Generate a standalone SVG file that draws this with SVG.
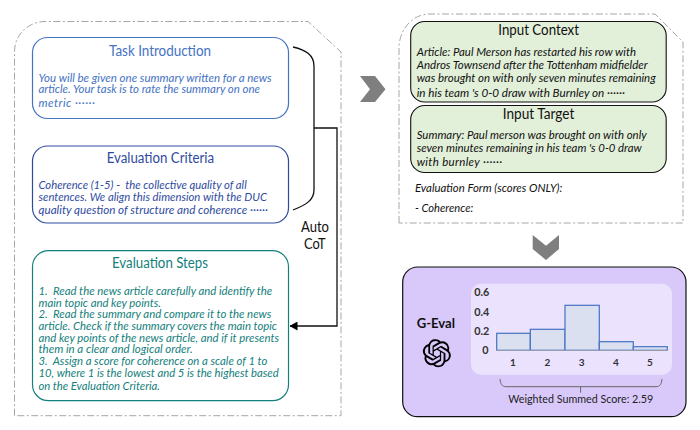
<svg xmlns="http://www.w3.org/2000/svg" width="700" height="430" viewBox="0 0 700 430">
<style>
text{font-family:Lato,"Open Sans","Liberation Sans",sans-serif}
.panel{fill:#fff;stroke:#a6a6a6;stroke-width:1;stroke-dasharray:7 2.5 2 2.5}
.box{fill:#fff;stroke-width:1.2}
.green{fill:#e2efd9;stroke:#111;stroke-width:1.1}
.title{font-size:14.6px;text-anchor:start}
.body{font-size:11.5px;font-style:italic}
.blue{fill:#4472c4;stroke:#4472c4}
.navy{fill:#2f4b9f;stroke:#2f4b9f}
.teal{fill:#13807c;stroke:#13807c}
text.blue,text.navy,text.teal{stroke:none}
.box.blue,.box.navy,.box.teal{fill:#fff}
.dark{fill:#111}
.chev{fill:#7f7f7f}
.conn{fill:none;stroke:#111;stroke-width:1.3}
.bar{fill:#dae0f0;stroke:#4472c4;stroke-width:1.2}
.tick{font-size:10px;font-weight:700;fill:#333}
.ax{font-size:10.8px;font-weight:700;fill:#333}
</style>
<defs>
<marker id="ah" markerWidth="8" markerHeight="9" refX="7.5" refY="4.5" orient="auto" markerUnits="userSpaceOnUse"><path d="M0 0L8 4.5L0 9Z" fill="#000"/></marker>
</defs>

<g id="left-panel"><path class="panel" d="M14.5 415.7V52C14.5 33 30 21.5 45 21.5H308L341 52V415.7Z"/></g>

<g id="task-introduction">
<rect class="box blue" x="32.5" y="37.5" width="256" height="81" rx="15"/>
<text class="title blue" x="109" y="55.7" textLength="102" lengthAdjust="spacingAndGlyphs">Task Introduction</text>
<text class="body blue" x="38.5" y="81.7" textLength="233.2" lengthAdjust="spacingAndGlyphs">You will be given one summary written for a news</text>
<text class="body blue" x="38.5" y="93.3" textLength="221.5" lengthAdjust="spacingAndGlyphs">article. Your task is to rate the summary on one</text>
<text class="body blue" x="38.5" y="107.3" textLength="56.5" lengthAdjust="spacing">metric  ······</text>
</g>

<g id="evaluation-criteria">
<rect class="box navy" x="32.5" y="146" width="256" height="77" rx="15"/>
<text class="title navy" x="106.7" y="162.7" textLength="107.3" lengthAdjust="spacingAndGlyphs">Evaluation Criteria</text>
<text class="body navy" x="38.5" y="189.3" textLength="208.2" lengthAdjust="spacingAndGlyphs" xml:space="preserve">Coherence (1-5) -  the collective quality of all</text>
<text class="body navy" x="38.5" y="201" textLength="228.5" lengthAdjust="spacingAndGlyphs">sentences. We align this dimension with the DUC</text>
<text class="body navy" x="38.5" y="214" textLength="229.5" lengthAdjust="spacingAndGlyphs">quality question of structure and coherence  ······</text>
</g>

<g id="evaluation-steps">
<rect class="box teal" x="32.5" y="250.7" width="256" height="150" rx="16"/>
<text class="title teal" x="112" y="268.3" textLength="96" lengthAdjust="spacingAndGlyphs">Evaluation Steps</text>
<text class="body teal" x="38.5" y="295" textLength="233.8" lengthAdjust="spacingAndGlyphs" xml:space="preserve">1.  Read the news article carefully and identify the</text>
<text class="body teal" x="38.5" y="306.7" textLength="122.5" lengthAdjust="spacingAndGlyphs">main topic and key points.</text>
<text class="body teal" x="38.5" y="318.3" textLength="232.8" lengthAdjust="spacingAndGlyphs" xml:space="preserve">2.  Read the summary and compare it to the news</text>
<text class="body teal" x="38.5" y="330" textLength="238.5" lengthAdjust="spacingAndGlyphs">article. Check if the summary covers the main topic</text>
<text class="body teal" x="38.5" y="341.7" textLength="240.5" lengthAdjust="spacingAndGlyphs">and key points of the news article, and if it presents</text>
<text class="body teal" x="38.5" y="353.3" textLength="154.2" lengthAdjust="spacingAndGlyphs">them in a clear and logical order.</text>
<text class="body teal" x="38.5" y="365" textLength="228.8" lengthAdjust="spacingAndGlyphs" xml:space="preserve">3.  Assign a score for coherence on a scale of 1 to</text>
<text class="body teal" x="38.5" y="376.7" textLength="240.2" lengthAdjust="spacingAndGlyphs">10, where 1 is the lowest and 5 is the highest based</text>
<text class="body teal" x="38.5" y="390" textLength="121.5" lengthAdjust="spacingAndGlyphs">on the Evaluation Criteria.</text>
</g>

<g id="connectors">
<path class="conn" d="M293 47C306 50 314 55 314 66V190C314 200 306 205 293 210"/>
<path class="conn" d="M314 128H337V326H290" marker-end="url(#ah)"/>
<polygon class="chev" points="360,76 375,76 385.5,89.3 375,102 360,102 370,89.3"/>
<polygon class="chev" points="532.7,235 546,245.7 559,235 559,249 546,260 532.7,249"/>
</g>
<g id="auto-cot">
<text x="301" y="232.3" font-size="14.6" class="dark" textLength="28" lengthAdjust="spacingAndGlyphs">Auto</text>
<text x="304" y="249.3" font-size="14.6" class="dark" textLength="21.7" lengthAdjust="spacingAndGlyphs">CoT</text>
</g>

<g id="right-panel"><path class="panel" d="M399 223V48C399 30 412 14 430 14H655L683 42V223Z"/></g>

<g id="input-context">
<rect class="green" x="410.7" y="21.5" width="255.5" height="80.5" rx="14"/>
<text class="title dark" x="498.3" y="35" textLength="80.7" lengthAdjust="spacingAndGlyphs">Input Context</text>
<text class="body dark" x="416.7" y="56" textLength="219.3" lengthAdjust="spacingAndGlyphs">Article: Paul Merson has restarted his row with</text>
<text class="body dark" x="416.7" y="69" textLength="231" lengthAdjust="spacingAndGlyphs">Andros Townsend after the Tottenham midfielder</text>
<text class="body dark" x="416.7" y="81.7" textLength="239" lengthAdjust="spacingAndGlyphs">was brought on with only seven minutes remaining</text>
<text class="body dark" x="416.7" y="96.7" textLength="208.3" lengthAdjust="spacingAndGlyphs">in his team 's 0-0 draw with Burnley on  ······</text>
</g>

<g id="input-target">
<rect class="green" x="410.7" y="105.5" width="255.5" height="67" rx="14"/>
<text class="title dark" x="502.7" y="119.3" textLength="71.6" lengthAdjust="spacingAndGlyphs">Input Target</text>
<text class="body dark" x="416.7" y="139.3" textLength="230" lengthAdjust="spacingAndGlyphs">Summary: Paul merson was brought on with only</text>
<text class="body dark" x="416.7" y="151.7" textLength="225" lengthAdjust="spacingAndGlyphs">seven minutes remaining in his team 's 0-0 draw</text>
<text class="body dark" x="416.7" y="165.7" textLength="85.6" lengthAdjust="spacing">with burnley  ······</text>
</g>

<g id="evaluation-form">
<text class="body dark" x="415" y="191.7" textLength="147.3" lengthAdjust="spacingAndGlyphs">Evaluation Form (scores ONLY):</text>
<text class="body dark" x="415" y="212.3" textLength="58.3" lengthAdjust="spacingAndGlyphs">- Coherence:</text>
</g>

<g id="g-eval">
<rect x="402.7" y="267" width="283.3" height="149.7" rx="15" fill="#d9c9fb" stroke="#111" stroke-width="1.2"/>
<rect x="471" y="283.7" width="201" height="91" rx="10" fill="#ebe2fd"/>
<text x="416.7" y="328.3" font-size="12.6" font-weight="700" class="dark" textLength="38.3" lengthAdjust="spacingAndGlyphs">G-Eval</text>
<path id="logo" transform="translate(422.8 339.2) scale(1.17)" fill="#000" d="M22.2819 9.8211a5.9847 5.9847 0 0 0-.5157-4.9108 6.0462 6.0462 0 0 0-6.5098-2.9A6.0651 6.0651 0 0 0 4.9807 4.1818a5.9847 5.9847 0 0 0-3.9977 2.9 6.0462 6.0462 0 0 0 .7427 7.0966 5.98 5.98 0 0 0 .511 4.9107 6.051 6.051 0 0 0 6.5146 2.9001A5.9847 5.9847 0 0 0 13.2599 24a6.0557 6.0557 0 0 0 5.7718-4.2058 5.9894 5.9894 0 0 0 3.9977-2.9001 6.0557 6.0557 0 0 0-.7475-7.0729zm-9.022 12.6081a4.4755 4.4755 0 0 1-2.8764-1.0408l.1419-.0804 4.7783-2.7582a.7948.7948 0 0 0 .3927-.6813v-6.7369l2.02 1.1686a.071.071 0 0 1 .038.052v5.5826a4.504 4.504 0 0 1-4.4945 4.4944zm-9.6607-4.1254a4.4708 4.4708 0 0 1-.5346-3.0137l.142.0852 4.783 2.7582a.7712.7712 0 0 0 .7806 0l5.8428-3.3685v2.3324a.0804.0804 0 0 1-.0332.0615L9.74 19.9502a4.4992 4.4992 0 0 1-6.1408-1.6464zM2.3408 7.8956a4.485 4.485 0 0 1 2.3655-1.9728V11.6a.7664.7664 0 0 0 .3879.6765l5.8144 3.3543-2.0201 1.1685a.0757.0757 0 0 1-.071 0l-4.8303-2.7865A4.504 4.504 0 0 1 2.3408 7.872zm16.5963 3.8558L13.1038 8.364 15.1192 7.2a.0757.0757 0 0 1 .071 0l4.8303 2.7913a4.4944 4.4944 0 0 1-.6765 8.1042v-5.6772a.79.79 0 0 0-.407-.667zm2.0107-3.0231l-.142-.0852-4.7735-2.7818a.7759.7759 0 0 0-.7854 0L9.409 9.2297V6.8974a.0662.0662 0 0 1 .0284-.0615l4.8303-2.7866a4.4992 4.4992 0 0 1 6.6802 4.66zM8.3065 12.863l-2.02-1.1638a.0804.0804 0 0 1-.038-.0567V6.0742a4.4992 4.4992 0 0 1 7.3757-3.4537l-.142.0805L8.704 5.459a.7948.7948 0 0 0-.3927.6813zm1.0976-2.3654l2.602-1.4998 2.6069 1.4998v2.9994l-2.5974 1.4997-2.6067-1.4997Z"/>
<text class="ax" x="474.3" y="296">0.6</text>
<text class="ax" x="474.3" y="316">0.4</text>
<text class="ax" x="474.3" y="335">0.2</text>
<text class="ax" x="482.3" y="353.7">0</text>
<rect class="bar" x="496.7" y="333.3" width="33.6" height="17"/>
<rect class="bar" x="530.3" y="329.3" width="34.7" height="21"/>
<rect class="bar" x="565" y="305.3" width="34.3" height="45"/>
<rect class="bar" x="599.3" y="341.7" width="34" height="8.6"/>
<rect class="bar" x="633.3" y="346.7" width="34" height="3.6"/>
<line x1="496" y1="350.4" x2="668" y2="350.4" stroke="#a0a0b0" stroke-width="1"/>
<text class="tick" x="513" y="366" text-anchor="middle">1</text>
<text class="tick" x="547.3" y="366" text-anchor="middle">2</text>
<text class="tick" x="581.7" y="366" text-anchor="middle">3</text>
<text class="tick" x="616" y="366" text-anchor="middle">4</text>
<text class="tick" x="650" y="366" text-anchor="middle">5</text>
<path d="M500 379C500.5 384 502 386.7 506 386.7H656C660 386.7 661.5 384 662 379M580.6 386.7V392.7" fill="none" stroke="#666" stroke-width="1"/>
<text x="508.3" y="403.3" font-size="11.6" fill="#222" textLength="145" lengthAdjust="spacingAndGlyphs">Weighted Summed Score: 2.59</text>
</g>
</svg>
